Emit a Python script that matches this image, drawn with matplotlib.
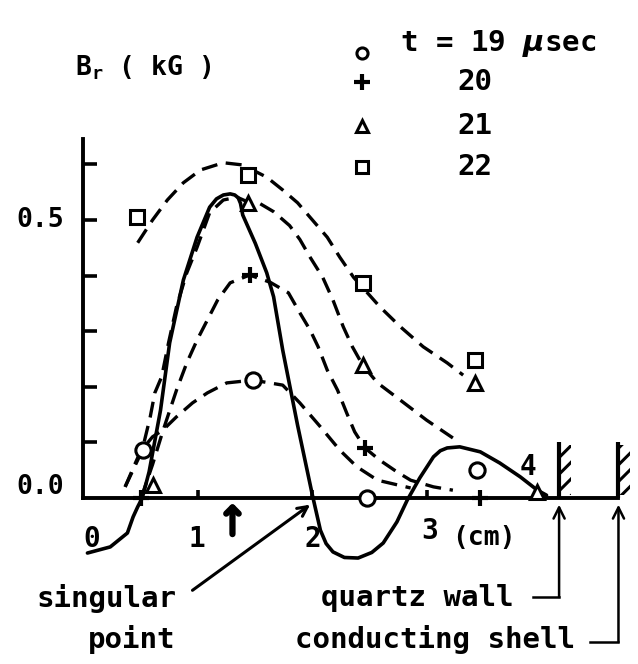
import numpy as np
import matplotlib.pyplot as plt
from matplotlib.patches import Rectangle

plt.rcParams['font.family'] = ['DejaVu Sans Mono', 'DejaVu Sans']
plt.rcParams['font.weight'] = 'bold'
plt.rcParams['mathtext.fontset'] = 'dejavusans'
plt.rcParams['hatch.linewidth'] = 2.2

# measured B_r (kG) against radius r (cm)
r19 = [0.52, 1.48, 2.48, 3.44]
b19 = [0.086, 0.212, 0.0, 0.05]
r20 = [0.50, 1.45, 2.46, 3.47]
b20 = [0.0, 0.401, 0.09, 0.0]
r21 = [0.60, 1.44, 2.44, 3.42, 3.97]
b21 = [0.023, 0.53, 0.239, 0.207, 0.011]
r22 = [0.46, 1.44, 2.44, 3.42]
b22 = [0.505, 0.581, 0.387, 0.248]

# hand-fitted profiles (dashed)
r19c = [0.36, 0.44, 0.52, 0.60, 0.69, 0.81, 0.95, 1.08, 1.25, 1.48, 1.74, 1.89, 2.07, 2.24, 2.39, 2.57, 2.86]
b19c = [0.02, 0.055, 0.09, 0.11, 0.122, 0.146, 0.171, 0.189, 0.207, 0.212, 0.203, 0.171, 0.128, 0.086, 0.056, 0.032, 0.018]
r20c = [0.50, 0.60, 0.69, 0.81, 0.90, 0.99, 1.08, 1.17, 1.28, 1.45, 1.63, 1.79, 1.89, 1.98, 2.05, 2.13,
        2.22, 2.30, 2.37, 2.46, 2.59, 2.74, 2.86, 3.06, 3.23]
b20c = [0.0, 0.06, 0.12, 0.194, 0.243, 0.284, 0.32, 0.356, 0.387, 0.401, 0.388, 0.369, 0.333, 0.302, 0.272, 0.23,
        0.194, 0.153, 0.119, 0.09, 0.068, 0.047, 0.032, 0.02, 0.014]
r21c = [0.36, 0.45, 0.52, 0.58, 0.62, 0.68, 0.74, 0.81, 0.90, 0.99, 1.10, 1.22, 1.34, 1.44, 1.52, 1.66, 1.80,
        1.89, 1.98, 2.09, 2.18, 2.27, 2.35, 2.44, 2.57, 2.77, 3.00, 3.23]
b21c = [0.02, 0.063, 0.095, 0.146, 0.189, 0.218, 0.279, 0.344, 0.405, 0.451, 0.513, 0.536, 0.541, 0.532, 0.532,
        0.515, 0.49, 0.465, 0.433, 0.397, 0.356, 0.308, 0.272, 0.239, 0.207, 0.176, 0.14, 0.108]
r22c = [0.47, 0.60, 0.73, 0.87, 1.02, 1.22, 1.39, 1.60, 1.74, 1.87, 2.00, 2.13, 2.24, 2.36, 2.59, 2.77, 2.97, 3.18, 3.32]
b22c = [0.459, 0.50, 0.536, 0.567, 0.59, 0.603, 0.599, 0.577, 0.554, 0.531, 0.50, 0.469, 0.433, 0.397, 0.344,
        0.308, 0.272, 0.243, 0.221]

# computed profile (solid)
r_sol = [0.03, 0.23, 0.38, 0.43, 0.47, 0.51, 0.57, 0.67, 0.75, 0.87, 0.99, 1.10, 1.16, 1.22, 1.28, 1.32, 1.35,
         1.37, 1.39, 1.50, 1.60, 1.66, 1.74, 1.87, 2.00, 2.07, 2.12, 2.18, 2.28, 2.40, 2.52, 2.62, 2.74, 2.83,
         2.94, 3.06, 3.12, 3.18, 3.29, 3.47, 3.64, 3.82, 3.97, 4.05]
b_sol = [-0.099, -0.088, -0.063, -0.034, -0.016, 0.0, 0.047, 0.158, 0.279, 0.392, 0.469, 0.523, 0.538, 0.545,
         0.547, 0.545, 0.54, 0.53, 0.509, 0.458, 0.405, 0.362, 0.266, 0.131, 0.005, -0.058, -0.082, -0.097,
         -0.107, -0.108, -0.098, -0.081, -0.043, -0.004, 0.036, 0.074, 0.085, 0.09, 0.092, 0.083, 0.063, 0.038,
         0.014, 0.005]

times = ['t = 19 $\\mu$sec', '20', '21', '22']
r_wall = 4.16
r_shell = 4.68
r_sing = 2.0
r_mark = 1.3

fig = plt.figure(figsize=(6.38, 6.64), dpi=100)
ax = fig.add_axes([0, 0, 1, 1])
ax.set_xlim(-0.7356, 4.851)
ax.set_ylim(-0.2986, 0.8957)

for s in ['top', 'right']:
    ax.spines[s].set_visible(False)
ax.spines['left'].set_position(('data', -0.01))
ax.spines['left'].set_bounds(0, 0.645)
ax.spines['bottom'].set_position(('data', 0))
ax.spines['bottom'].set_bounds(-0.01, r_shell)
for s in ['left', 'bottom']:
    ax.spines[s].set_linewidth(2.8)
ax.set_yticks([0.1, 0.2, 0.3, 0.4, 0.5, 0.6], labels=[])
ax.set_xticks([1, 2, 3], labels=[])
ax.tick_params(axis='y', direction='in', length=10, width=2.6)
ax.tick_params(axis='x', direction='in', length=6, width=2.6)

dash = dict(color='black', lw=2.4, dashes=(4.8, 2.6), dash_capstyle='butt')
ax.plot(r22c, b22c, **dash)
ax.plot(r21c, b21c, **dash)
ax.plot(r20c, b20c, **dash)
ax.plot(r19c, b19c, **dash)
ax.plot(r_sol, b_sol, color='black', lw=2.6, solid_capstyle='round', solid_joinstyle='round')

mk = dict(ls='none', color='black', mfc='white', mew=2.2, zorder=5)
ax.plot(r19, b19, marker='o', ms=11, **mk)
ax.plot(r20, b20, marker='+', ms=12, mew=3, ls='none', color='black', zorder=5)
ax.plot(r21, b21, marker='^', ms=10, **mk)
ax.plot(r22, b22, marker='s', ms=10, **mk)

# legend
ly = [0.817, 0.748, 0.669, 0.595]
ax.plot(2.43, 0.80, marker='o', ms=8, **mk)
ax.plot(2.43, 0.748, marker='+', ms=11, mew=3, color='black')
ax.plot(2.43, 0.669, marker='^', ms=9, **mk)
ax.plot(2.43, 0.595, marker='s', ms=9, **mk)
ax.text(2.77, ly[0], times[0], fontsize=21, va='center', ha='left')
for y, t in zip(ly[1:], times[1:]):
    ax.text(3.27, y, t, fontsize=21, va='center', ha='left')

ax.text(-0.08, 0.773, '$\\mathregular{B_r}$ ( kG )', fontsize=19, va='center', ha='left')

# tick labels
ax.text(-0.385, 0.5, '0.5', fontsize=19, va='center', ha='center')
ax.text(-0.385, 0.02, '0.0', fontsize=19, va='center', ha='center')
ax.text(0.07, -0.074, '0', fontsize=20, va='center', ha='center')
ax.text(0.99, -0.074, '1', fontsize=20, va='center', ha='center')
ax.text(2.0, -0.074, '2', fontsize=20, va='center', ha='center')
ax.text(3.03, -0.06, '3', fontsize=20, va='center', ha='center')
ax.text(3.5, -0.072, '(cm)', fontsize=19, va='center', ha='center')
ax.text(3.89, 0.056, '4', fontsize=20, va='center', ha='center')

# walls
for xw in [r_wall, r_shell]:
    ax.plot([xw, xw], [0, 0.1], color='black', lw=3, solid_capstyle='butt')
    ax.add_patch(Rectangle((xw, 0.005), 0.1, 0.09, hatch='//', fill=False, lw=0, edgecolor='black'))

# annotations
ax.text(0.2, -0.18, 'singular', fontsize=21, va='center', ha='center')
ax.text(0.42, -0.255, 'point', fontsize=21, va='center', ha='center')
ax.text(3.76, -0.18, 'quartz wall', fontsize=21, va='center', ha='right')
ax.text(4.3, -0.255, 'conducting shell', fontsize=21, va='center', ha='right')

ax.annotate('', xy=(r_sing, -0.009), xytext=(0.93, -0.169),
            arrowprops=dict(arrowstyle='->,head_width=0.35,head_length=0.7', lw=2.2, color='black'))
ax.annotate('', xy=(r_mark, -0.004), xytext=(r_mark, -0.07),
            arrowprops=dict(arrowstyle='->,head_width=0.45,head_length=0.45', lw=4.5, color='black'))

for xw, yb, xl in [(r_wall, -0.178, 3.93), (r_shell, -0.259, 4.43)]:
    ax.annotate('', xy=(xw, -0.012), xytext=(xw, yb),
                arrowprops=dict(arrowstyle='->,head_width=0.4,head_length=0.8', lw=1.8, color='black',
                                shrinkA=0, shrinkB=0))
    ax.plot([xl, xw], [yb, yb], color='black', lw=1.8)

fig.savefig('out.png', dpi=100)
